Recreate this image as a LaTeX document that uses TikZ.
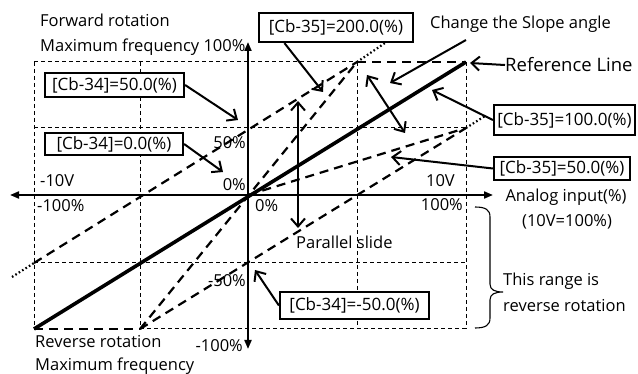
\documentclass[tikz,border=0pt]{standalone}
\usepackage{fontspec}
\setmainfont{Open Sans}
\usetikzlibrary{arrows.meta,calc}
\begin{document}
\begin{tikzpicture}[x=1pt,y=-1pt,
  gridline/.style={line width=1pt,dash pattern=on 4pt off 3pt},
  dataline/.style={line width=2.2pt,dash pattern=on 9pt off 6pt},
  refline/.style={line width=3.6pt},
  dotline/.style={line width=2.2pt,dash pattern=on 1.6pt off 2.4pt},
  axisline/.style={line width=2pt,{Triangle[length=9pt,width=7pt]}-{Triangle[length=9pt,width=7pt]}},
  notearrow/.style={line width=2pt,-{Straight Barb[length=8pt,width=14pt]}},
  dblarrow/.style={line width=2pt,{Straight Barb[length=8pt,width=14pt]}-{Straight Barb[length=8pt,width=14pt]}},
  labelbox/.style={draw,line width=2.2pt,fill=white,inner sep=0pt,font=\fontsize{17}{19}\selectfont},
  txt/.style={inner sep=0pt,font=\fontsize{16.5}{18}\selectfont}
]
\useasboundingbox (0,0) rectangle (638,374);
% key points
\coordinate (O) at (248,195);
\coordinate (LL) at (34,329);
\coordinate (ML) at (140,329);
\coordinate (UR) at (466,62);
\coordinate (MU) at (357,62);
\coordinate (LM) at (34,263);
\coordinate (RM) at (466,128);
\coordinate (d1) at (12,277);
\coordinate (d2) at (385,43);
\coordinate (d3) at (485,116);
% grid
\draw[gridline] (34,62) -- (357,62);
\draw[gridline] (140,329) -- (466,329);
\draw[gridline] (34,128) -- (466,128);
\draw[gridline] (34,263) -- (466,263);
\draw[gridline] (34,62) -- (34,329);
\draw[gridline] (140,62) -- (140,329);
\draw[gridline] (357,62) -- (357,329);
\draw[gridline] (466,62) -- (466,329);
% data lines
\draw[dataline] (MU) -- (UR);
\draw[dataline] (LL) -- (ML);
\draw[dataline] (LM) -- (MU);
\draw[dataline] (ML) -- (MU);
\draw[dataline] (O) -- (RM);
\draw[dataline] (ML) -- (RM);
\draw[dotline] (d1) -- (LM);
\draw[dotline] (MU) -- (d2);
\draw[dotline] (RM) -- (d3);
\draw[refline] (LL) -- (UR);
% axes
\coordinate (xl) at (10,195);
\coordinate (xr) at (493,195);
\coordinate (yt) at (248,42);
\coordinate (yb) at (248,349);
\draw[axisline] (xl) -- (xr);
\draw[axisline] (yb) -- (yt);
% texts
\node[txt,anchor=base west] (fwd) at (40,27) {Forward rotation};
\node[txt,anchor=base west] (maxf) at (40,52) {Maximum frequency 100\%};
\node[txt,anchor=base east] (p50) at (246,149) {50\%};
\node[txt,anchor=base east] (p0a) at (246,191) {0\%};
\node[txt,anchor=base west] (m10v) at (40,187) {-10V};
\node[txt,anchor=base west] (m100a) at (37,212) {-100\%};
\node[txt,anchor=base west] (p0b) at (255,212) {0\%};
\node[txt,anchor=base east] (p10v) at (455,187) {10V};
\node[txt,anchor=base east] (p100) at (463,211) {100\%};
\node[txt,anchor=base] (ain) at (566,202) {Analog input(\%)};
\node[txt,anchor=base] (ain2) at (567,227) {(10V=100\%)};
\node[txt,anchor=base west] (pslide) at (296,249) {Parallel slide};
\node[txt,anchor=base east] (m50) at (246,287) {-50\%};
\node[txt,anchor=base east] (m100b) at (243,352) {-100\%};
\node[txt,anchor=base west] (rev) at (35,348) {Reverse rotation};
\node[txt,anchor=base west] (revmax) at (35,371) {Maximum frequency};
\node[txt,anchor=base west] (rng1) at (503,286) {This range is};
\node[txt,anchor=base west] (rng2) at (503,312) {reverse rotation};
\node[txt,anchor=base west] (chg) at (430,29) {Change the Slope angle};
\node[txt,anchor=base west,font=\fontsize{18.5}{20}\selectfont] (refl) at (505,72) {Reference Line};
% boxes
\node[labelbox,minimum width=154pt,minimum height=29pt] (b200) at (336,27.5) {[Cb-35]=200.0(\%)};
\node[labelbox,minimum width=139pt,minimum height=24pt] (b34p50) at (114.5,85) {[Cb-34]=50.0(\%)};
\node[labelbox,minimum width=138pt,minimum height=22pt] (b34p0) at (114,144) {[Cb-34]=0.0(\%)};
\node[labelbox,minimum width=141pt,minimum height=30pt] (b35p100) at (564.5,120) {[Cb-35]=100.0(\%)};
\node[labelbox,minimum width=136pt,minimum height=23pt] (b35p50) at (562,168.5) {[Cb-35]=50.0(\%)};
\node[labelbox,minimum width=149pt,minimum height=27pt] (b34m50) at (354.5,305.5) {[Cb-34]=-50.0(\%)};
% annotation arrows
\coordinate (t200) at (323,92);
\coordinate (t34p50) at (238,120);
\coordinate (t34p0) at (223,172);
\coordinate (t35p100) at (432,90);
\coordinate (t35p50) at (391,157);
\coordinate (t34m50) at (255,270);
\coordinate (cs) at (466,40);
\coordinate (tcs) at (390,83);
\coordinate (tref) at (470,63);
\coordinate (sa1) at (367,75);
\coordinate (sa2) at (405,133);
\coordinate (ps1) at (298,101);
\coordinate (ps2) at (298,228);
\draw[notearrow] ($(b200.south west)!0.17!(b200.south east)$) -- (t200);
\draw[notearrow] (b34p50.east) -- (t34p50);
\draw[notearrow] (b34p0.east) -- (t34p0);
\draw[notearrow] (b35p100.west) -- (t35p100);
\draw[notearrow] (b35p50.west) -- (t35p50);
\draw[notearrow] (b34m50.west) -- (t34m50);
\draw[notearrow] (cs) -- (tcs);
\draw[notearrow] (refl.west) -- (tref);
\draw[dblarrow] (sa1) -- (sa2);
\draw[dblarrow] (ps1) -- (ps2);
% brace
\draw[line width=1.1pt] (475,207) .. controls (486,207) and (490,210) .. (490,217) -- (490,284)
  .. controls (490,290) and (495,292) .. (503,292) .. controls (495,292) and (490,294) .. (490,300)
  -- (490,318) .. controls (490,325) and (486,328) .. (475,328);
\end{tikzpicture}
\end{document}
